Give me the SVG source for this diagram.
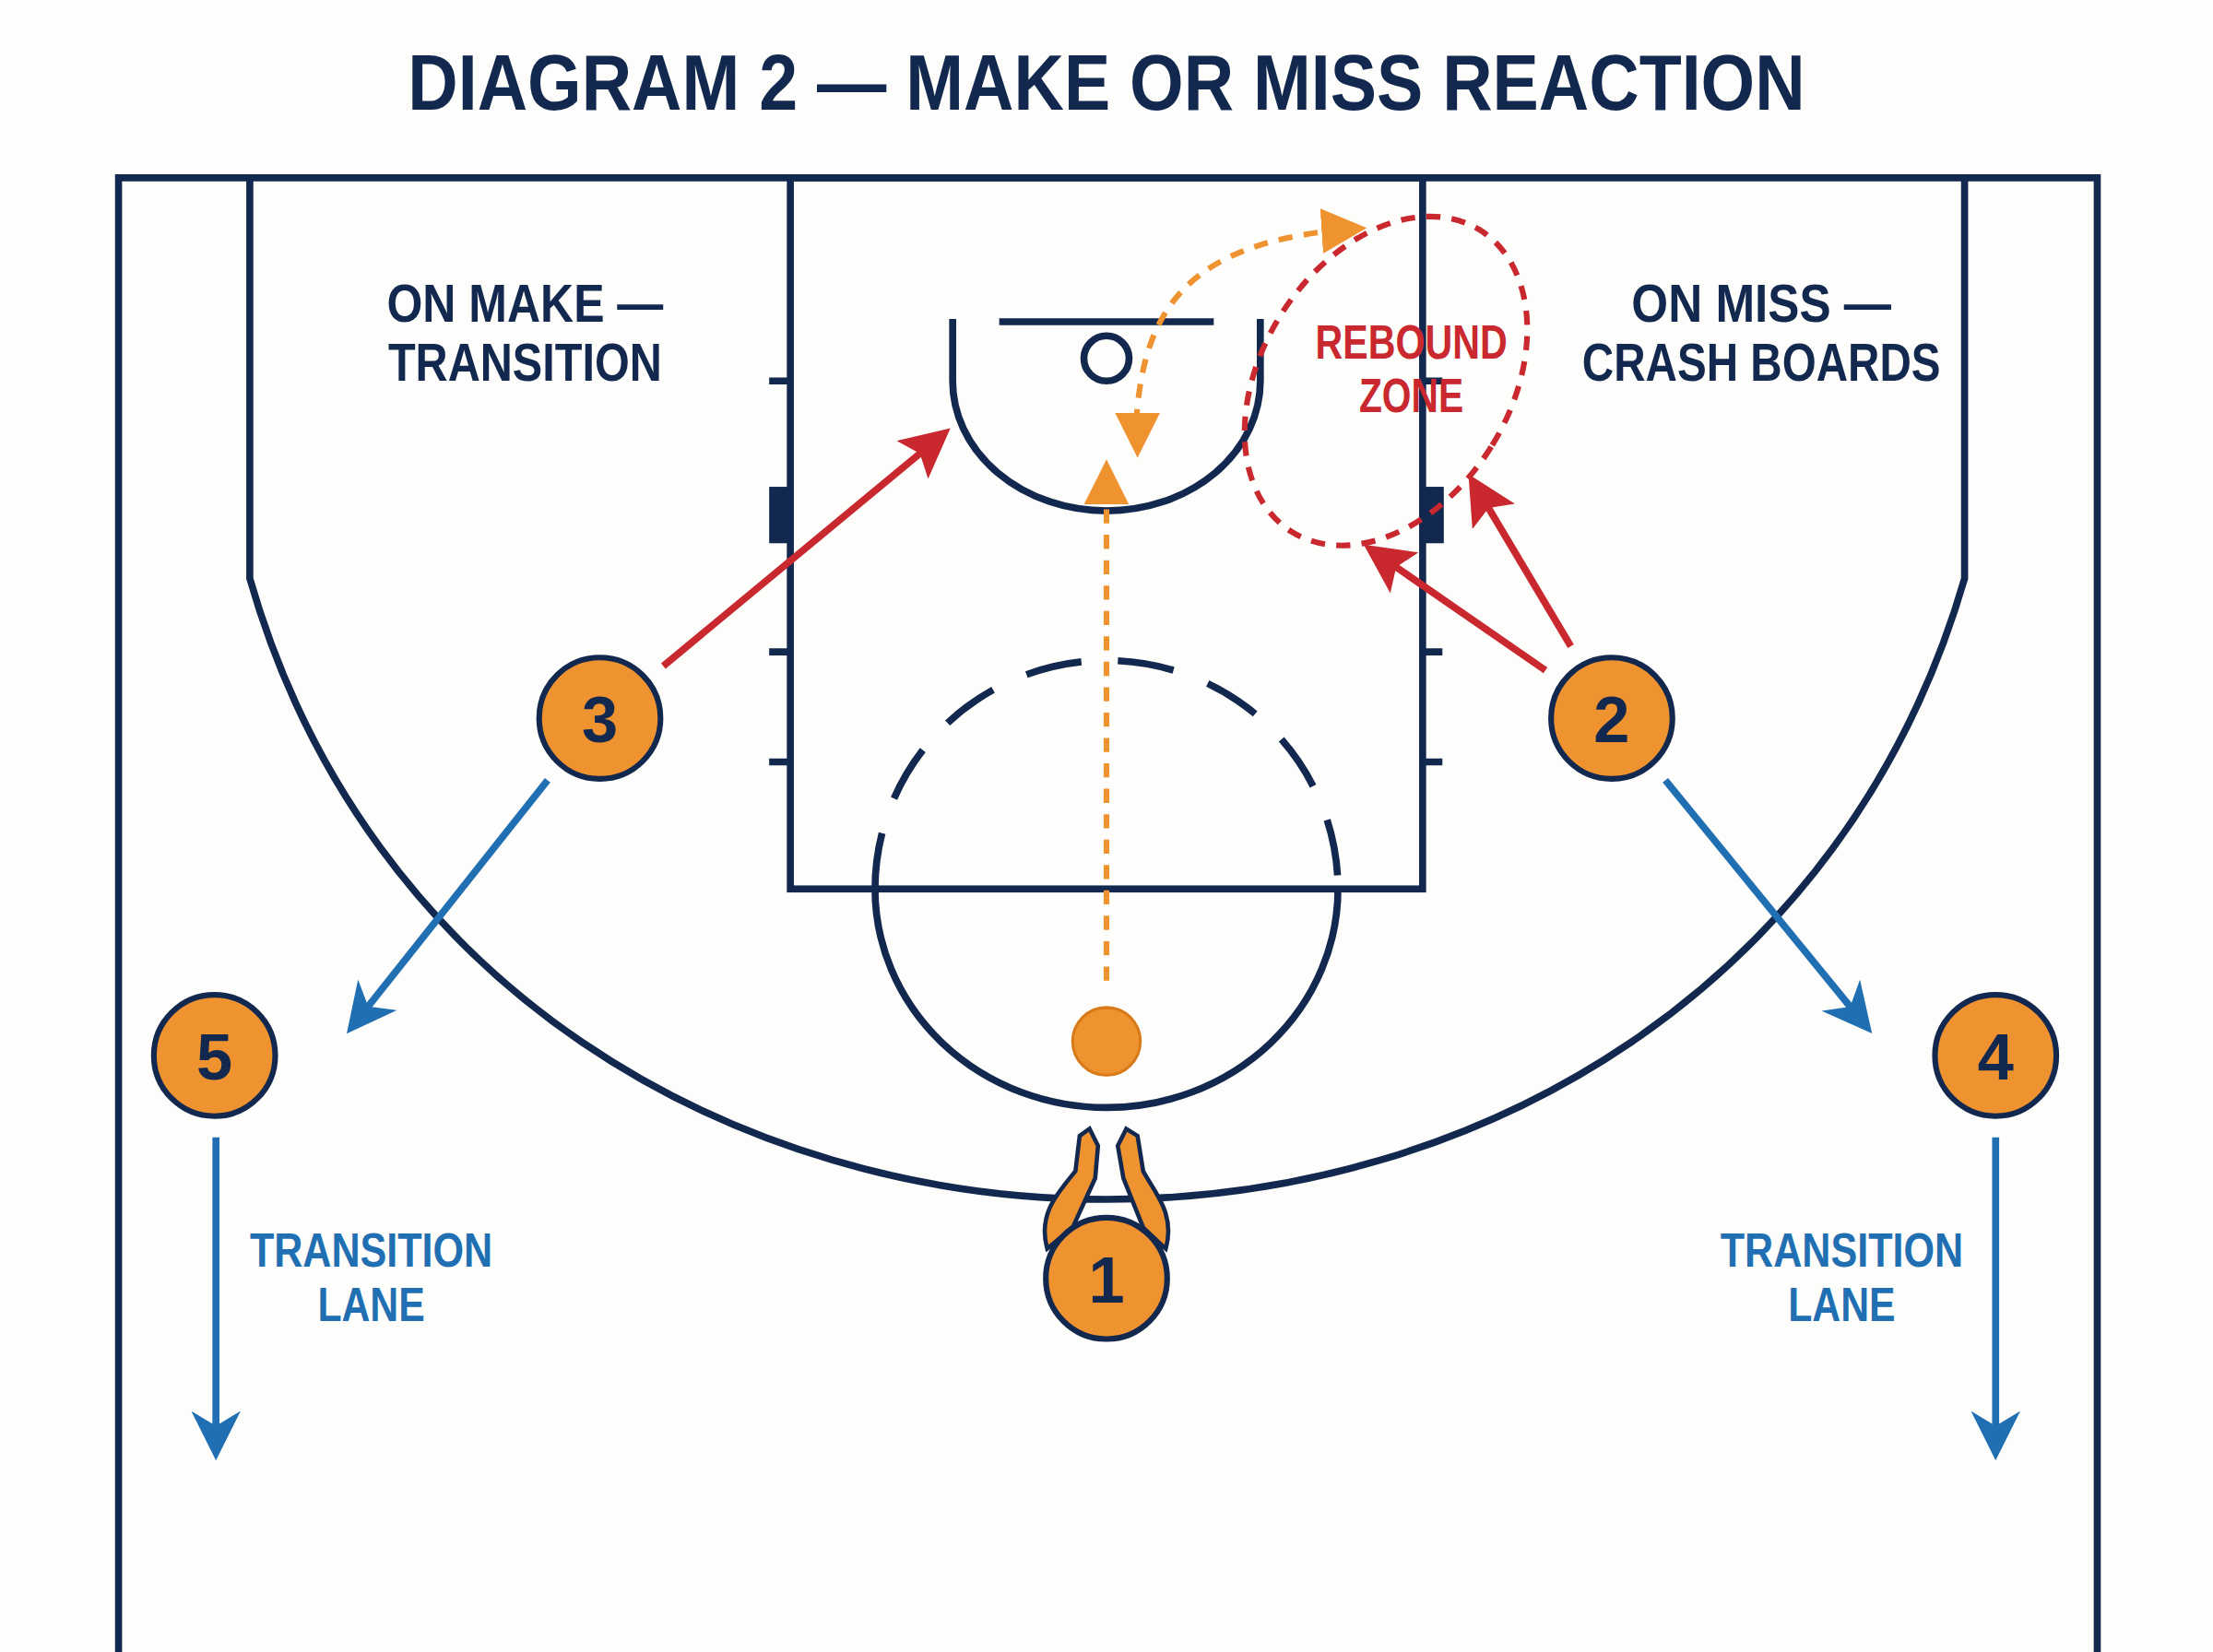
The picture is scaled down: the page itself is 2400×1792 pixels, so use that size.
<svg xmlns="http://www.w3.org/2000/svg" width="2400" height="1792" viewBox="0 0 2400 1792">
<style>
.ln{fill:none;stroke:#13284f;stroke-width:5}
.t{font-family:"Liberation Sans",Arial,sans-serif;font-weight:bold;text-anchor:middle}
.pl{fill:#ef9330;stroke:#13284f;stroke-width:4}
.pn{font-family:"Liberation Sans",Arial,sans-serif;font-weight:bold;font-size:46px;fill:#13284f;text-anchor:middle}
.red{fill:none;stroke:#c8282e;stroke-width:5}
.blue{fill:none;stroke:#1f6fb2;stroke-width:5}
.or{fill:none;stroke:#ef9330;stroke-width:4;stroke-dasharray:10 8}
</style>
<defs>
<marker id="ar" viewBox="0 0 10 10" refX="8" refY="5" markerWidth="7" markerHeight="7" markerUnits="strokeWidth" orient="auto"><path d="M0 0L10 5L0 10L2 5z" fill="#c8282e"/></marker>
<marker id="ab" viewBox="0 0 10 10" refX="8" refY="5" markerWidth="7" markerHeight="7" markerUnits="strokeWidth" orient="auto"><path d="M0 0L10 5L0 10L3 5z" fill="#1f6fb2"/></marker>
<marker id="ao" viewBox="0 0 10 10" refX="8" refY="5" markerWidth="8" markerHeight="8" markerUnits="strokeWidth" orient="auto"><path d="M0 0L10 5L0 10z" fill="#ef9330"/></marker>
</defs>
<rect width="2400" height="1792" fill="#fdfdfb"/>
<g transform="scale(1.5306)">
<text class="t" x="784" y="78" font-size="56" fill="#13284f" textLength="990" lengthAdjust="spacingAndGlyphs">DIAGRAM 2 — MAKE OR MISS REACTION</text>
<g id="court">
<path class="ln" d="M84 1171V126H1486V1171" stroke-width="6"/>
<path class="ln" d="M177 126V410C260 700 520 850 784 850C1048 850 1308 700 1392 410V126"/>
<rect class="ln" x="560" y="126" width="448" height="504"/>
<path class="ln" d="M545 270H560M545 462H560M545 540H560M1008 270H1022M1008 462H1022M1008 540H1022"/>
<rect x="545" y="345" width="15" height="40" fill="#13284f"/>
<rect x="1008" y="345" width="15" height="40" fill="#13284f"/>
<path class="ln" d="M708 228H860"/>
<circle class="ln" cx="784" cy="254" r="16" stroke-width="7"/>
<path class="ln" d="M675 226V270A109 92 0 0 0 893 270V226"/>
<path class="ln" d="M620 630A164 155 0 0 0 948 630"/>
<path class="ln" d="M620 630A164 162 0 0 1 948 630" stroke-dasharray="40 26"/>
</g>
<g id="zone">
<ellipse cx="982" cy="270" rx="88" ry="126" transform="rotate(32 982 270)" fill="none" stroke="#c8282e" stroke-width="4" stroke-dasharray="10 8"/>
<text class="t" x="1000" y="254" font-size="34" fill="#c8282e" textLength="136" lengthAdjust="spacingAndGlyphs">REBOUND</text>
<text class="t" x="1000" y="292" font-size="34" fill="#c8282e" textLength="74" lengthAdjust="spacingAndGlyphs">ZONE</text>
</g>
<g id="labels">
<text class="t" x="372" y="228" font-size="38" fill="#13284f" textLength="196" lengthAdjust="spacingAndGlyphs">ON MAKE —</text>
<text class="t" x="372" y="270" font-size="38" fill="#13284f" textLength="194" lengthAdjust="spacingAndGlyphs">TRANSITION</text>
<text class="t" x="1248" y="228" font-size="38" fill="#13284f" textLength="184" lengthAdjust="spacingAndGlyphs">ON MISS —</text>
<text class="t" x="1248" y="270" font-size="38" fill="#13284f" textLength="254" lengthAdjust="spacingAndGlyphs">CRASH BOARDS</text>
<text class="t" x="263" y="898" font-size="34" fill="#1f6fb2" textLength="172" lengthAdjust="spacingAndGlyphs">TRANSITION</text>
<text class="t" x="263" y="936" font-size="34" fill="#1f6fb2" textLength="76" lengthAdjust="spacingAndGlyphs">LANE</text>
<text class="t" x="1305" y="898" font-size="34" fill="#1f6fb2" textLength="172" lengthAdjust="spacingAndGlyphs">TRANSITION</text>
<text class="t" x="1305" y="936" font-size="34" fill="#1f6fb2" textLength="76" lengthAdjust="spacingAndGlyphs">LANE</text>
</g>
<g id="connectors">
<path class="or" d="M784 695V332" marker-end="url(#ao)"/>
<path class="or" d="M805 300C810 220 840 170 962 162" marker-end="url(#ao)"/>
<path class="or" d="M806 300V318" stroke-dasharray="none" marker-end="url(#ao)"/>
<path class="red" d="M470 472L668 308" marker-end="url(#ar)"/>
<path class="red" d="M1095 475L972 390" marker-end="url(#ar)"/>
<path class="red" d="M1113 458L1044 342" marker-end="url(#ar)"/>
<path class="blue" d="M388 553L250 727" marker-end="url(#ab)"/>
<path class="blue" d="M1180 553L1322 727" marker-end="url(#ab)"/>
<path class="blue" d="M153 806V1028" marker-end="url(#ab)"/>
<path class="blue" d="M1414 806V1028" marker-end="url(#ab)"/>
</g>
<g id="ball"><circle cx="784" cy="738" r="24" fill="#ef9330" stroke="#d97a1a" stroke-width="2"/></g>
<g id="shooter">
<path d="M742 885C735 860 750 845 762 830L765 805L772 800L778 812L776 835L760 870Z" fill="#ef9330" stroke="#13284f" stroke-width="3"/>
<path d="M826 885C833 860 818 845 810 830L806 805L798 800L792 812L796 835L810 870Z" fill="#ef9330" stroke="#13284f" stroke-width="3"/>
</g>
<g id="p3"><circle class="pl" cx="425" cy="509" r="43"/><text class="pn" x="425" y="526">3</text></g>
<g id="p2"><circle class="pl" cx="1142" cy="509" r="43"/><text class="pn" x="1142" y="526">2</text></g>
<g id="p5"><circle class="pl" cx="152" cy="748" r="43"/><text class="pn" x="152" y="765">5</text></g>
<g id="p4"><circle class="pl" cx="1414" cy="748" r="43"/><text class="pn" x="1414" y="765">4</text></g>
<g id="p1"><circle class="pl" cx="784" cy="906" r="43"/><text class="pn" x="784" y="923">1</text></g>
</g>
</svg>
